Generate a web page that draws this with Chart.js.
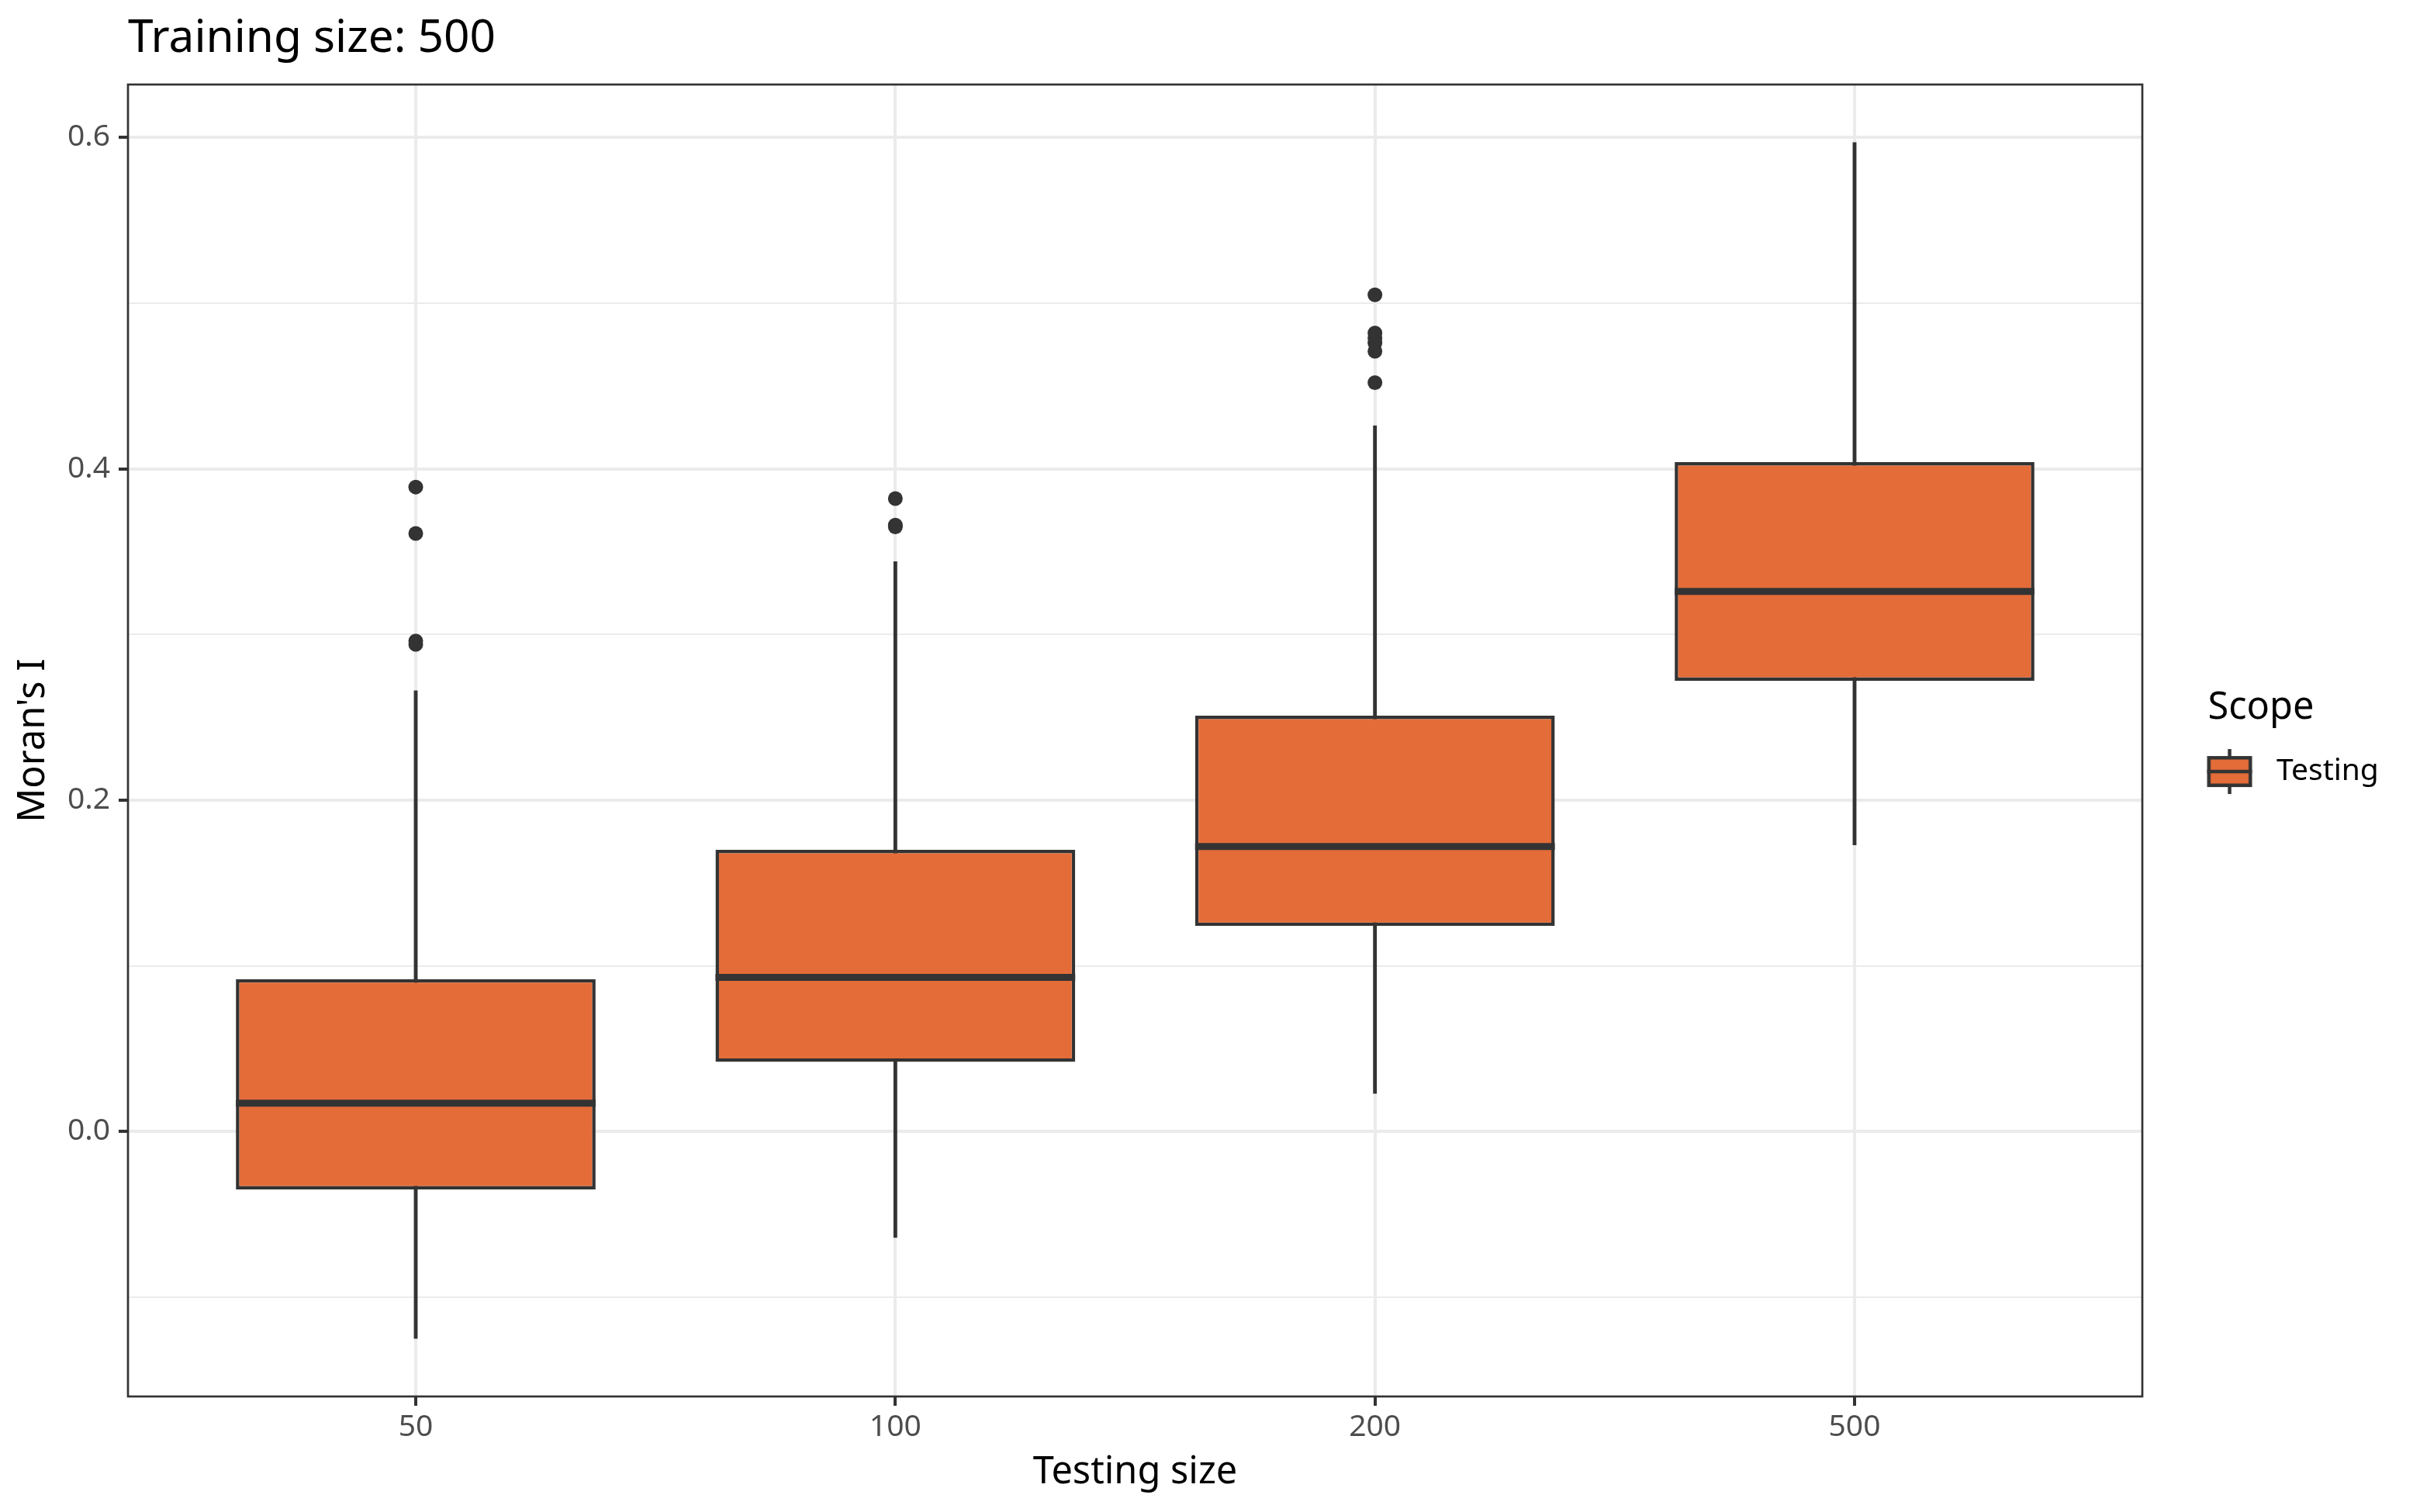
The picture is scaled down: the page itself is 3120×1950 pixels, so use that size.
<!DOCTYPE html>
<html>
<head>
<meta charset="utf-8">
<title>Training size: 500</title>
<script src="https://cdn.jsdelivr.net/npm/chart.js@4.4.0/dist/chart.umd.min.js"></script>
<style>
  html, body { margin: 0; padding: 0; background: #ffffff; }
  #wrap { width: 3120px; height: 1950px; }
</style>
</head>
<body>
<div id="wrap"><canvas id="chart" width="3120" height="1950"></canvas></div>
<script>
// data
const categories = ['50', '100', '200', '500'];
const seriesName = 'Testing';
const whiskerLow = [-0.125, -0.064, 0.023, 0.173];
const q1 = [-0.035, 0.042, 0.124, 0.272];
const median = [0.017, 0.093, 0.172, 0.326];
const q3 = [0.092, 0.170, 0.251, 0.404];
const whiskerHigh = [0.266, 0.344, 0.426, 0.597];
const outliers = [
    [0.389, 0.361, 0.296, 0.294],
    [0.382, 0.366, 0.365],
    [0.505, 0.482, 0.479, 0.476, 0.471, 0.452],
    []
];
const yMajorTicks = [0.0, 0.2, 0.4, 0.6];
const yMinorTicks = [-0.1, 0.1, 0.3, 0.5];

const boxFill = '#E46C38';
const ink = '#333333';

Chart.defaults.font.family = "'Noto Sans', 'Open Sans', sans-serif";

// little boxplot glyph for the legend key (drawn right of centre inside the image)
function makeKeyGlyph() {
    const c = document.createElement('canvas');
    c.width = 118;
    c.height = 60;
    const g = c.getContext('2d');
    const cx = 87.35, cy = 30;
    g.fillStyle = ink;
    g.fillRect(cx - 2.25, cy - 29, 4.5, 58);
    g.fillRect(cx - 29, cy - 20, 58, 40);
    g.fillStyle = boxFill;
    g.fillRect(cx - 24.5, cy - 15.5, 49, 31);
    g.fillStyle = ink;
    g.fillRect(cx - 29, cy - 2.25, 58, 4.5);
    return c;
}
const keyGlyph = makeKeyGlyph();

const isMajor = v => yMajorTicks.includes(v);

// thick median bar across each box, placed with the y scale and the box element
const medianLines = {
    id: 'medianLines',
    afterDatasetsDraw(chart) {
        const { ctx } = chart;
        const yScale = chart.scales.y;
        const boxes = chart.getDatasetMeta(1).data;
        ctx.save();
        ctx.strokeStyle = ink;
        ctx.lineWidth = 9;
        boxes.forEach((bar, i) => {
            const py = yScale.getPixelForValue(median[i]);
            ctx.beginPath();
            ctx.moveTo(bar.x - bar.width / 2, py);
            ctx.lineTo(bar.x + bar.width / 2, py);
            ctx.stroke();
        });
        ctx.restore();
    }
};

// panel border on top of everything, like theme_bw
const panelBorder = {
    id: 'panelBorder',
    afterDatasetsDraw(chart) {
        const { ctx, chartArea: a } = chart;
        ctx.save();
        ctx.strokeStyle = ink;
        ctx.lineWidth = 2.7;
        ctx.strokeRect(a.left, a.top, a.right - a.left, a.bottom - a.top);
        ctx.restore();
    }
};

new Chart(document.getElementById('chart'), {
    type: 'bar',
    data: {
        datasets: [
            {
                type: 'bar',
                label: 'whiskers',
                data: categories.map((_, i) => ({ x: i, y: [whiskerLow[i], whiskerHigh[i]] })),
                backgroundColor: ink,
                barThickness: 4.2,
                grouped: false,
                order: 3
            },
            {
                type: 'bar',
                label: seriesName,
                data: categories.map((_, i) => ({ x: i, y: [q1[i], q3[i]] })),
                backgroundColor: boxFill,
                borderColor: ink,
                borderWidth: 4.5,
                borderSkipped: false,
                barPercentage: 0.75,
                categoryPercentage: 1,
                grouped: false,
                order: 2
            },
            {
                type: 'scatter',
                label: 'outliers',
                data: outliers.flatMap((vals, i) => vals.map(v => ({ x: i, y: v }))),
                pointRadius: 9.5,
                pointBackgroundColor: ink,
                pointBorderWidth: 0,
                order: 1
            }
        ]
    },
    options: {
        responsive: false,
        animation: false,
        devicePixelRatio: 1,
        events: [],
        layout: { padding: { left: 0, right: 52, top: 0, bottom: 0 } },
        plugins: {
            tooltip: { enabled: false },
            title: {
                display: true,
                text: 'Training size: 500',
                align: 'start',
                fullSize: false,
                color: '#000000',
                font: { size: 58.5, weight: 'normal' },
                padding: { top: 15.2, bottom: 23.6 }
            },
            legend: {
                display: true,
                position: 'right',
                align: 'center',
                fullSize: false,
                maxWidth: 306,
                title: {
                    display: true,
                    text: 'Scope',
                    position: 'center',
                    color: '#000000',
                    font: { size: 48.7 },
                    padding: { top: 8, bottom: 13.6 }
                },
                labels: {
                    usePointStyle: true,
                    pointStyleWidth: 138.7,
                    padding: 14.8,
                    color: '#000000',
                    font: { size: 39 },
                    generateLabels: () => [{
                        text: seriesName,
                        pointStyle: keyGlyph,
                        fillStyle: boxFill,
                        strokeStyle: ink,
                        lineWidth: 0,
                        hidden: false,
                        datasetIndex: 1,
                        fontColor: '#000000'
                    }]
                }
            }
        },
        scales: {
            x: {
                type: 'linear',
                min: -0.6,
                max: 3.6,
                offset: false,
                afterBuildTicks: s => { s.ticks = categories.map((_, i) => ({ value: i })); },
                afterFit: s => { s.height = 149; },
                ticks: {
                    callback: v => categories[v],
                    color: '#4D4D4D',
                    font: { size: 39 },
                    padding: 4,
                    autoSkip: false,
                    maxRotation: 0
                },
                grid: { offset: false, color: '#EBEBEB', lineWidth: 4, tickColor: ink, tickLength: 12, tickWidth: 4 },
                border: { display: false },
                title: {
                    display: true,
                    text: 'Testing size',
                    color: '#000000',
                    font: { size: 48.7 },
                    padding: { top: 0, bottom: 22 }
                }
            },
            y: {
                type: 'linear',
                min: -0.16,
                max: 0.632,
                afterBuildTicks: s => {
                    s.ticks = yMinorTicks.concat(yMajorTicks).sort((a, b) => a - b).map(v => ({ value: v }));
                },
                afterFit: s => { s.width = 165; },
                ticks: {
                    callback: v => isMajor(v) ? v.toFixed(1) : '',
                    color: '#4D4D4D',
                    font: { size: 39 },
                    padding: 11,
                    autoSkip: false
                },
                grid: {
                    color: '#EBEBEB',
                    lineWidth: c => isMajor(c.tick.value) ? 4 : 2,
                    tickColor: c => isMajor(c.tick.value) ? ink : 'rgba(0,0,0,0)',
                    tickLength: 12,
                    tickWidth: 4
                },
                border: { display: false },
                title: {
                    display: true,
                    text: "Moran's I",
                    color: '#000000',
                    font: { size: 48.7 },
                    padding: { top: 13.9, bottom: 0 }
                }
            }
        }
    },
    plugins: [medianLines, panelBorder]
});
</script>
</body>
</html>
